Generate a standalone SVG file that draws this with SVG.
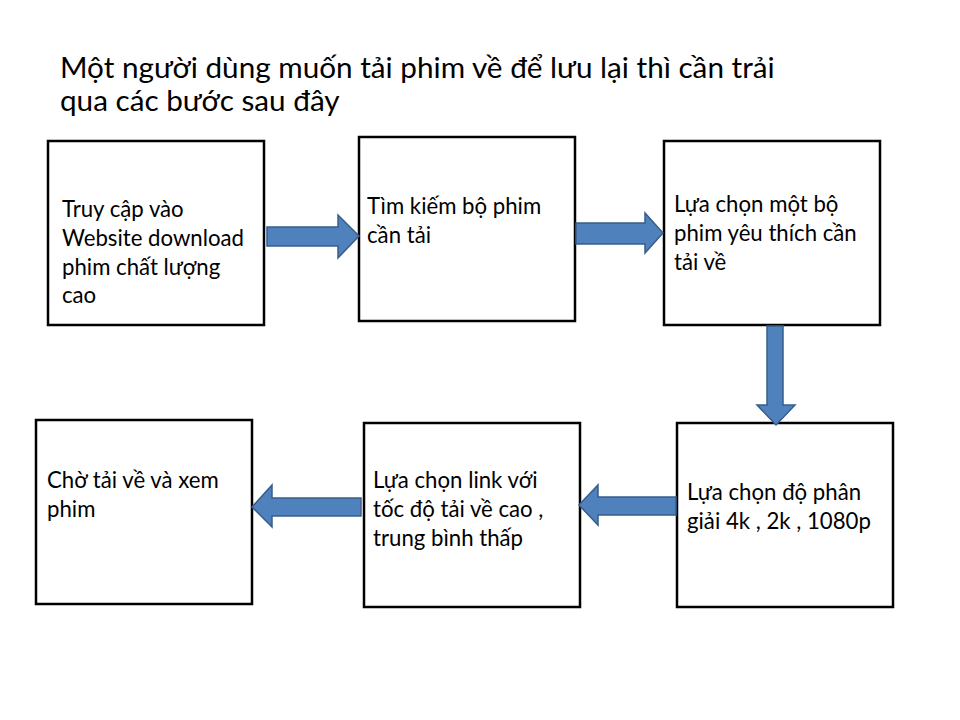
<svg xmlns="http://www.w3.org/2000/svg" width="960" height="720" viewBox="0 0 960 720">
<style>
text{font-family:Lato,"Open Sans","Liberation Sans",sans-serif;fill:#000}
.t{font-size:29.7px}
.n{font-size:22.2px}
.box{fill:#fff;stroke:#000;stroke-width:2.5}
.arr{fill:#4F81BD;stroke:#385D8A;stroke-width:1.5}
</style>
<rect width="960" height="720" fill="#fff"/>
<g id="title">
<text class="t" x="60" y="78">Một người dùng muốn tải phim về để lưu lại thì cần trải</text>
<text class="t" x="60" y="111">qua các bước sau đây</text>
</g>
<g id="node1">
<rect class="box" x="48" y="141" width="216" height="184"/>
<text class="n" x="62" y="217">Truy cập vào</text>
<text class="n" x="62" y="246">Website download</text>
<text class="n" x="62" y="275">phim chất lượng</text>
<text class="n" x="62" y="303">cao</text>
</g>
<g id="node2">
<rect class="box" x="359" y="137" width="216" height="184"/>
<text class="n" x="367" y="214">Tìm kiếm bộ phim</text>
<text class="n" x="367" y="243">cần tải</text>
</g>
<g id="node3">
<rect class="box" x="664" y="141" width="216" height="184"/>
<text class="n" x="674" y="212">Lựa chọn một bộ</text>
<text class="n" x="674" y="241">phim yêu thích cần</text>
<text class="n" x="674" y="270">tải về</text>
</g>
<g id="node4">
<rect class="box" x="677" y="423" width="216" height="184"/>
<text class="n" x="687" y="500">Lựa chọn độ phân</text>
<text class="n" x="687" y="529">giải 4k , 2k , 1080p</text>
</g>
<g id="node5">
<rect class="box" x="364" y="423" width="216" height="184"/>
<text class="n" x="373" y="488">Lựa chọn link với</text>
<text class="n" x="373" y="517">tốc độ tải về cao ,</text>
<text class="n" x="373" y="546">trung bình thấp</text>
</g>
<g id="node6">
<rect class="box" x="36" y="420" width="216" height="184"/>
<text class="n" x="47" y="488">Chờ tải về và xem</text>
<text class="n" x="47" y="517">phim</text>
</g>
<g id="connectors">
<polygon class="arr" points="267,227 338,227 338,215 359,236 338,258 338,246 267,246"/>
<polygon class="arr" points="576,223 645,223 645,213 663,233 645,253 645,244 576,244"/>
<polygon class="arr" points="767,326 783,326 783,405 795,405 776,425 757,405 767,405"/>
<polygon class="arr" points="676,497 598,497 598,485 579,505 598,525 598,515 676,515"/>
<polygon class="arr" points="361,498 272,498 272,485 252,507 272,527 272,516 361,516"/>
</g>
</svg>
